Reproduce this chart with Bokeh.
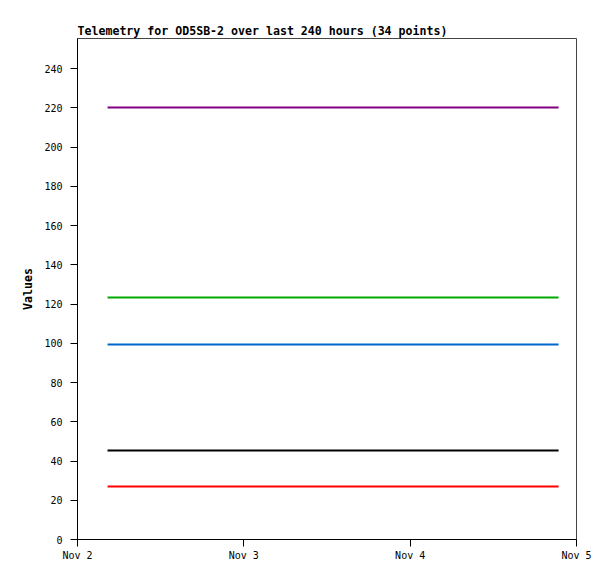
from datetime import datetime
from bokeh.plotting import figure
from bokeh.models import Range1d, FixedTicker, DatetimeTickFormatter
from bokeh.embed import file_html
from bokeh.resources import INLINE

# Sample times (34 points)
times = [
    "2023-11-02 04:20", "2023-11-02 06:20", "2023-11-02 08:20", "2023-11-02 10:15",
    "2023-11-02 12:15", "2023-11-02 14:15", "2023-11-02 16:10", "2023-11-02 18:10",
    "2023-11-02 20:10", "2023-11-02 22:05", "2023-11-03 00:05", "2023-11-03 02:05",
    "2023-11-03 04:00", "2023-11-03 06:00", "2023-11-03 08:00", "2023-11-03 09:55",
    "2023-11-03 11:55", "2023-11-03 13:55", "2023-11-03 15:50", "2023-11-03 17:50",
    "2023-11-03 19:50", "2023-11-03 21:45", "2023-11-03 23:45", "2023-11-04 01:45",
    "2023-11-04 03:40", "2023-11-04 05:40", "2023-11-04 07:40", "2023-11-04 09:35",
    "2023-11-04 11:35", "2023-11-04 13:35", "2023-11-04 15:30", "2023-11-04 17:30",
    "2023-11-04 19:30", "2023-11-04 21:25",
]

series_purple = [220.1] * 34
series_green = [123.3] * 34
series_blue = [99.4] * 34
series_black = [45.4] * 34
series_red = [27.0] * 34

series = [
    (series_purple, "#800080"),
    (series_green, "#00aa00"),
    (series_blue, "#0066cc"),
    (series_black, "#000000"),
    (series_red, "#ff0000"),
]

day_ticks = ["2023-11-02", "2023-11-03", "2023-11-04", "2023-11-05"]
y_ticks = [0, 20, 40, 60, 80, 100, 120, 140, 160, 180, 200, 220, 240]

x = [datetime.strptime(t, "%Y-%m-%d %H:%M") for t in times]
day_dt = [datetime.strptime(d, "%Y-%m-%d") for d in day_ticks]
day_ms = [(d - datetime(1970, 1, 1)).total_seconds() * 1000 for d in day_dt]

MONO = "DejaVu Sans Mono"

p = figure(
    width=600, height=575,
    x_axis_type="datetime",
    output_backend="svg", toolbar_location=None,
    x_range=Range1d(day_dt[0], day_dt[-1]),
    y_range=Range1d(0, 255.3),
    title="Telemetry for OD5SB-2 over last 240 hours (34 points)",
    min_border_left=77, min_border_right=24, min_border_top=38, min_border_bottom=36,
)

for vals, col in series:
    p.line(x, vals, line_color=col, line_width=2)

p.title.text_font = MONO
p.title.text_font_size = "11.6px"
p.title.text_font_style = "bold"
p.title.text_color = "black"
p.title.align = "left"
p.title.offset = 0
p.title.standoff = 2

p.xgrid.visible = False
p.ygrid.visible = False
p.outline_line_color = "#444444"
p.outline_line_width = 1

p.xaxis.ticker = FixedTicker(ticks=day_ms)
p.xaxis.formatter = DatetimeTickFormatter(days="%b %-d", months="%b %-d", hours="%b %-d")
p.yaxis.ticker = FixedTicker(ticks=y_ticks)
p.yaxis.axis_label = "Values"

for ax in (p.xaxis[0], p.yaxis[0]):
    ax.axis_line_color = "black"
    ax.axis_line_width = 1
    ax.major_tick_line_color = "black"
    ax.major_tick_in = 0
    ax.major_tick_out = 7
    ax.minor_tick_line_color = None
    ax.major_label_text_font = MONO
    ax.major_label_text_font_size = "10px"
    ax.major_label_text_color = "black"

p.xaxis.major_label_standoff = 3
p.yaxis.major_label_standoff = 8

p.yaxis.axis_label_text_font = MONO
p.yaxis.axis_label_text_font_size = "11.6px"
p.yaxis.axis_label_text_font_style = "bold"
p.yaxis.axis_label_text_color = "black"
p.yaxis.axis_label_standoff = 6

open("out.html", "w").write(file_html(p, INLINE))
